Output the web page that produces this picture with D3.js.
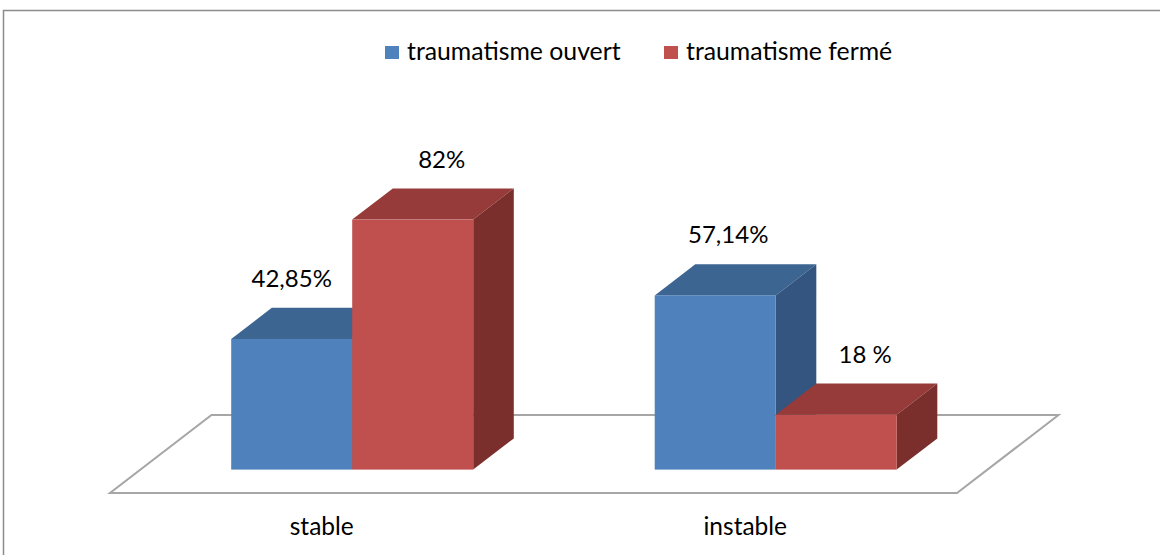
<!DOCTYPE html>
<html>
<head>
<meta charset="utf-8">
<script src="https://cdn.jsdelivr.net/npm/d3@7"></script>
<style>
  body { margin: 0; background: #fff; }
  svg { display: block; }
  text { font-family: Lato, "Open Sans", sans-serif; fill: #000; }
</style>
</head>
<body>
<svg id="chart" width="1160" height="555"></svg>
<script>
// Categories and series values (percent)
const categories = ["stable", "instable"];
const seriesNames = ["traumatisme ouvert", "traumatisme fermé"];
const ouvert = [42.85, 57.14];
const ferme = [82, 18];
const ouvertLabels = ["42,85%", "57,14%"];
const fermeLabels = ["82%", "18 %"];

// Face colours per series: front, top, side
const palettes = [
  { front: "#4F81BD", top: "#3D6591", side: "#33557F" },
  { front: "#C0504D", top: "#963B39", side: "#7B2F2D" }
];

// Hand-placed label shifts (x) per series, per category
const labelShift = [[0, 13], [29, 29]];

const svg = d3.select("#chart");

// Outer frame
svg.append("rect")
  .attr("x", 3.5).attr("y", 10.5)
  .attr("width", 1200).attr("height", 600)
  .attr("fill", "none").attr("stroke", "#8c8c8c").attr("stroke-width", 1.5);

// Oblique projection: floor front edge and full depth vector
const floorY = 493;
const depth = { dx: 101.5, dy: -78 };
const barFront = 0.3, barBack = 0.7;

const x0 = d3.scaleBand().domain(categories).range([110, 957])
  .paddingInner(0.4286).paddingOuter(0.2143);
const x1 = d3.scaleBand().domain(d3.range(seriesNames.length)).range([0, x0.bandwidth()]);
const h = d3.scaleLinear().domain([0, 100]).range([0, 304.9]);

// Floor
const floorPts = [
  [x0.range()[0], floorY],
  [x0.range()[1], floorY],
  [x0.range()[1] + depth.dx, floorY + depth.dy],
  [x0.range()[0] + depth.dx, floorY + depth.dy]
];
svg.append("path")
  .attr("d", d3.line()(floorPts) + "Z")
  .attr("fill", "#fff").attr("stroke", "#a6a6a6").attr("stroke-width", 2);

// Bars
const baseY = floorY + depth.dy * barFront;
const offX = depth.dx * barFront;
const bdx = depth.dx * (barBack - barFront), bdy = depth.dy * (barBack - barFront);

const series = [ouvert, ferme];
const labels = [ouvertLabels, fermeLabels];
const bars = [];
categories.forEach((c, ci) => {
  series.forEach((vals, si) => {
    bars.push({ ci, si, v: vals[ci], label: labels[si][ci],
      x: x0(c) + x1(si) + offX, w: x1.bandwidth() });
  });
});

const g = svg.append("g");
bars.forEach(b => {
  const pal = palettes[b.si];
  const top = baseY - h(b.v);
  const xl = b.x, xr = b.x + b.w;
  const bar = g.append("g");
  bar.append("path")
    .attr("d", d3.line()([[xl, top], [xr, top], [xr + bdx, top + bdy], [xl + bdx, top + bdy]]) + "Z")
    .attr("fill", pal.top);
  bar.append("path")
    .attr("d", d3.line()([[xr, top], [xr + bdx, top + bdy], [xr + bdx, baseY + bdy], [xr, baseY]]) + "Z")
    .attr("fill", pal.side);
  bar.append("rect")
    .attr("x", xl).attr("y", top).attr("width", b.w).attr("height", h(b.v))
    .attr("fill", pal.front);
  svg.append("text")
    .attr("x", xl + b.w / 2 + labelShift[b.si][b.ci])
    .attr("y", top - 52)
    .attr("text-anchor", "middle")
    .attr("font-size", 24)
    .text(b.label);
});

// Category labels along the floor's front edge
svg.selectAll("text.cat").data(categories).join("text")
  .attr("class", "cat")
  .attr("x", d => x0(d) + x0.bandwidth() / 2)
  .attr("y", 534.5)
  .attr("text-anchor", "middle")
  .attr("font-size", 24.5)
  .text(d => d);

// Legend
const legendX = [385, 664];
const lg = svg.append("g");
seriesNames.forEach((n, i) => {
  lg.append("rect").attr("x", legendX[i]).attr("y", 46).attr("width", 14).attr("height", 13)
    .attr("fill", palettes[i].front);
  lg.append("text").attr("x", legendX[i] + 22).attr("y", 59.5)
    .attr("font-size", 24.8).text(n);
});
</script>
</body>
</html>
